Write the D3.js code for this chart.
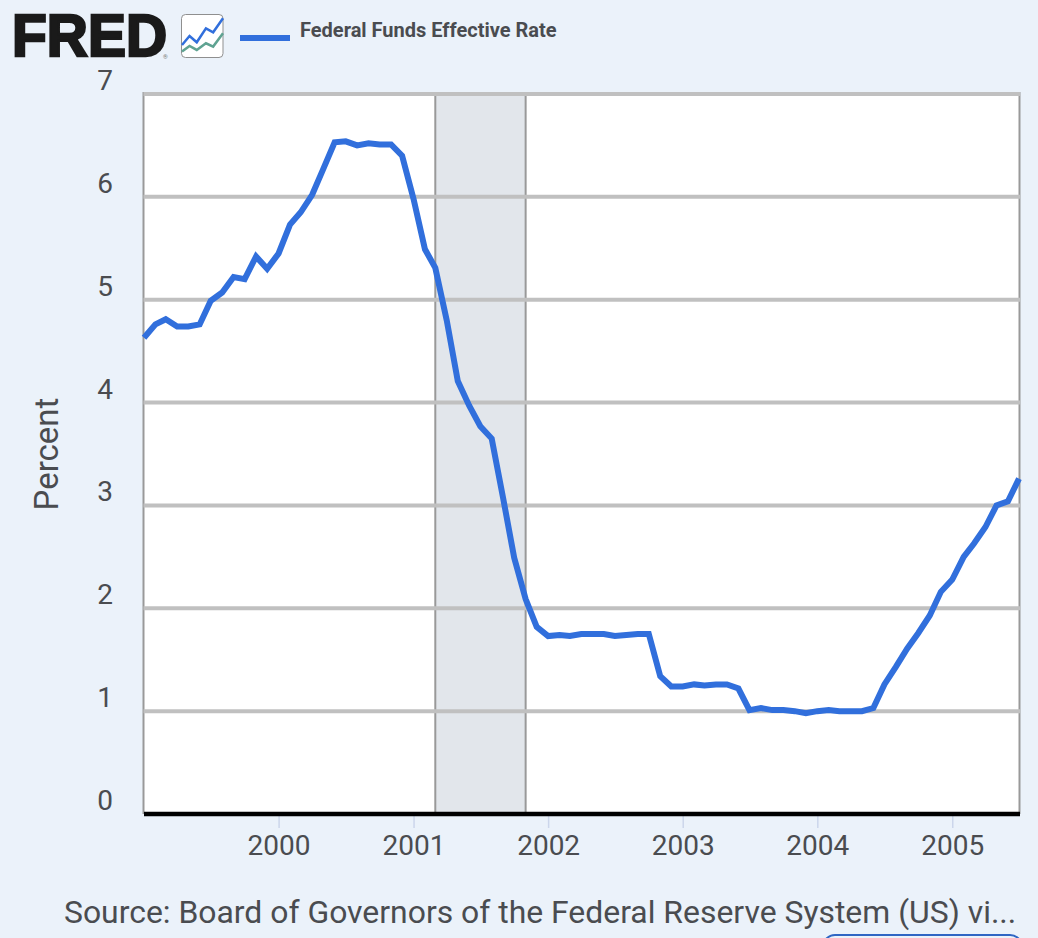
<!DOCTYPE html>
<html><head><meta charset="utf-8">
<script src="https://cdn.jsdelivr.net/npm/d3@7"></script>
<style>
html,body{margin:0;padding:0;background:#ebf2fa;overflow:hidden}
text{font-family:Roboto,sans-serif}
</style></head><body>
<svg id="c" width="1038" height="938"></svg>
<script>
const startMonth = "1999-01-01";
const rates = [
4.63,4.76,4.81,4.74,4.74,4.76,4.99,5.07,5.22,5.20,5.42,5.30,
5.45,5.73,5.85,6.02,6.27,6.53,6.54,6.50,6.52,6.51,6.51,6.40,
5.98,5.49,5.31,4.80,4.21,3.97,3.77,3.65,3.07,2.49,2.09,1.82,
1.73,1.74,1.73,1.75,1.75,1.75,1.73,1.74,1.75,1.75,1.34,1.24,
1.24,1.26,1.25,1.26,1.26,1.22,1.01,1.03,1.01,1.01,1.00,0.98,
1.00,1.01,1.00,1.00,1.00,1.03,1.26,1.43,1.61,1.76,1.93,2.16,
2.28,2.50,2.63,2.79,3.00,3.04,3.26];
const recession = ["2001-03-01","2001-11-01"];
const yearTicks = [2000,2001,2002,2003,2004,2005];
const valueTicks = [0,1,2,3,4,5,6,7];
const seriesName = "Federal Funds Effective Rate";
const yTitle = "Percent";
const sourceText = "Source: Board of Governors of the Federal Reserve System (US) vi...";
const iconSteps = [0,23,45,73,95,125];
const iconBlue = [38,65,46,88,76,118];
const iconGreen = [18,35,23,43,33,73];

const parse = d3.utcParse("%Y-%m-%d");
const t0 = parse(startMonth);
const data = rates.map((v,i)=>({date:d3.utcMonth.offset(t0,i),value:v}));
const svg = d3.select("#c");
const M = {l:144,r:1019,t:94,b:814};
const x = d3.scaleUtc().domain(d3.extent(data,d=>d.date)).range([M.l,M.r]);
const y = d3.scaleLinear().domain([0,7]).range([M.b,M.t]);
const ink = "#4a4c50";
const blue = "#316fdc";

svg.append("rect").attr("x",M.l).attr("y",M.t).attr("width",M.r-M.l).attr("height",M.b-M.t).attr("fill","#fff");

// recession band
const r0=x(parse(recession[0])), r1=x(parse(recession[1]));
svg.append("rect").attr("x",r0).attr("y",M.t).attr("width",r1-r0).attr("height",M.b-M.t).attr("fill","#e2e6eb");

// borders
[M.l-0.5,M.r+0.5,r0,r1].forEach(px=>svg.append("line").attr("x1",px).attr("x2",px).attr("y1",M.t-2).attr("y2",M.b)
 .attr("stroke","#999").attr("stroke-width",2));

// grid
svg.append("g").selectAll("line").data(valueTicks.filter(d=>d>0)).join("line")
 .attr("x1",M.l-0.5).attr("x2",M.r+1).attr("y1",d=>y(d)).attr("y2",d=>y(d))
 .attr("stroke","#c0c0c0").attr("stroke-width",4);

// x axis
const xAxis = d3.axisBottom(x).tickValues(yearTicks.map(d=>new Date(Date.UTC(d,0,1)))).tickFormat(d3.utcFormat("%Y")).tickSize(14).tickPadding(7);
const gx = svg.append("g").attr("transform",`translate(0,${M.b})`).call(xAxis);
gx.select(".domain").remove();
gx.selectAll("line").attr("stroke","#ccd6eb").attr("stroke-width",1.5);
gx.selectAll("text").attr("fill",ink).style("font-size","28px").style("font-family","Roboto,sans-serif");
svg.append("line").attr("x1",M.l).attr("x2",M.r+1).attr("y1",M.b).attr("y2",M.b).attr("stroke","#000").attr("stroke-width",4.5);

// y axis
const yAxis = d3.axisLeft(y).tickValues(valueTicks).tickFormat(d3.format("d")).tickSize(0).tickPadding(0);
const gy = svg.append("g").attr("transform",`translate(113,-13.5)`).call(yAxis);
gy.select(".domain").remove();
gy.selectAll("text").attr("fill",ink).style("font-size","28px").style("font-family","Roboto,sans-serif");

svg.append("text").attr("transform","translate(58,454) rotate(-90)").attr("text-anchor","middle")
 .attr("fill",ink).style("font-size","33px").text(yTitle);

// line
const line = d3.line().x(d=>x(d.date)).y(d=>y(d.value));
svg.append("path").datum(data).attr("d",line).attr("fill","none").attr("stroke",blue)
 .attr("stroke-width",6).attr("stroke-linejoin","miter");

// header
svg.append("text").attr("x",12).attr("y",56).attr("fill","#1a1a1a")
 .style("font-family","'Liberation Sans',Arial,sans-serif").style("font-weight",700).style("font-size","59px")
 .attr("stroke","#1a1a1a").attr("stroke-width",2.5).attr("textLength",155).attr("lengthAdjust","spacingAndGlyphs").text("FRED");
svg.append("text").attr("x",163).attr("y",59).attr("fill","#777").style("font-size","6px").text("®");

svg.append("rect").attr("x",181.5).attr("y",14.5).attr("width",41.5).attr("height",43).attr("rx",4)
 .attr("fill","#fff").attr("stroke","#8f8f8f").attr("stroke-width",1);
const ix = d3.scaleLinear().domain([0,125]).range([182,223]);
const iy = d3.scaleLinear().domain([0,130]).range([57.6,14.3]);
const il = d3.line().x((d,i)=>ix(iconSteps[i])).y(d=>iy(d));
svg.append("path").attr("d",il(iconGreen)).attr("fill","none").attr("stroke","#5fa392").attr("stroke-width",2.5);
svg.append("path").attr("d",il(iconBlue)).attr("fill","none").attr("stroke",blue).attr("stroke-width",2.5);

svg.append("rect").attr("x",240).attr("y",35).attr("width",50).attr("height",6).attr("fill",blue);
svg.append("text").attr("x",300).attr("y",37).attr("fill",ink).style("font-weight",700).style("font-size","20px").text(seriesName);

// source
svg.append("text").attr("x",64).attr("y",923).attr("fill",ink).style("font-size","31.9px").text(sourceText);
// button peeking at bottom edge
svg.append("rect").attr("x",823).attr("y",935).attr("width",199).attr("height",30).attr("rx",12).attr("fill","none").attr("stroke","#2f66c4").attr("stroke-width",2);
</script>
</body></html>
